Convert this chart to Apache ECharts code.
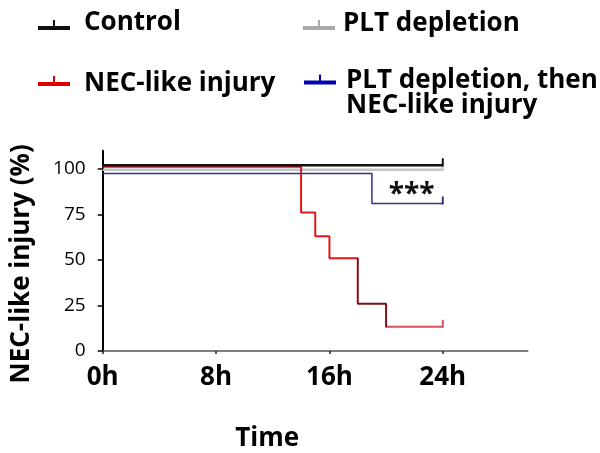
<!DOCTYPE html>
<html>
<head>
<meta charset="utf-8">
<script src="https://cdn.jsdelivr.net/npm/echarts@6/dist/echarts.min.js"></script>
<style>html,body{margin:0;padding:0;background:#fff}#c{width:600px;height:453px}</style>
</head>
<body>
<div id="c"></div>
<script>
// ---- data ----
const seriesNames = ['Control', 'PLT depletion', 'NEC-like injury', 'PLT depletion, then\nNEC-like injury'];
const controlTime = [0, 24];
const controlPct = [102, 102];
const pltTime = [0, 24];
const pltPct = [99.5, 99.5];
const necTime = [0, 14, 15, 16, 18, 20, 24];
const necPct = [101.2, 76, 63, 51, 26, 13.3, 13.3];
const pltNecTime = [0, 19, 24];
const pltNecPct = [97.5, 81, 81];
const xTicks = [0, 8, 16, 24];
const xTickLabels = ['0h', '8h', '16h', '24h'];
const yTicks = [0, 25, 50, 75, 100];
const sigLabel = '***';
const sigPoint = [21.8, 89];

const FONT = '"Open Sans", sans-serif';
const pair = (t, v) => t.map((x, i) => [x, v[i]]);
function iconFor(dy) {
  const c = 12 + dy;
  return 'path://M0,0 L0.01,0 L0,0.01 Z M0,24 L0.01,24 L0,23.99 Z ' +
    `M0,${c - 2} L32,${c - 2} L32,${c + 2} L0,${c + 2} Z M15,${c - 8} L17,${c - 8} L17,${c - 2} L15,${c - 2} Z`;
}

function mkSeries(name, t, v, color, width, z) {
  const last = t.length - 1;
  const s = {
    type: 'line', name: name, step: 'end', z: z,
    data: pair(t, v),
    showSymbol: true, showAllSymbol: true,
    symbol: (val, p) => p.dataIndex === last ? 'rect' : 'none',
    symbolSize: [2, 8], symbolOffset: [0, -3],
    lineStyle: { width: width },
    emphasis: { disabled: true },
    animation: false
  };
  if (color) { s.itemStyle = { color: color }; s.lineStyle.color = color; }
  return s;
}

function legendAt(left, top, idx, color, dy, padLeft, extra) {
  return Object.assign({
    left: left, top: top, padding: 0, selectedMode: false,
    itemWidth: 32, itemHeight: 24,
    textStyle: { fontFamily: FONT, fontWeight: 'bold', fontSize: 26, color: '#000', padding: [0, 0, 0, padLeft], lineHeight: 25 },
    data: [{ name: seriesNames[idx], icon: iconFor(dy), itemStyle: { color: color } }]
  }, extra || {});
}

const chart = echarts.init(document.getElementById('c'), null, { renderer: 'canvas' });
const necSeries = mkSeries(seriesNames[2], necTime, necPct, null, 2, 3);
const blueSeries = mkSeries(seriesNames[3], pltNecTime, pltNecPct, '#30338a', 1.5, 4);
blueSeries.markPoint = {
  symbol: 'circle', symbolSize: 0, silent: true, animation: false,
  label: { show: true, formatter: sigLabel, fontFamily: FONT, fontWeight: 'bold', fontSize: 28, color: '#111', position: 'inside', offset: [0, 6] },
  data: [{ coord: sigPoint }]
};

chart.setOption({
  backgroundColor: '#fff',
  animation: false,
  grid: { left: 102.7, right: 72.2, top: 150.7, bottom: 101.3 },
  legend: [
    legendAt(38, 10, 0, '#111', 5, 9),
    legendAt(303, 11, 1, '#aaa', 4, 3),
    legendAt(38, 71, 2, '#e00000', 0, 9),
    legendAt(304, 43, 3, '#0000b0', 1.5, 5, { formatter: n => ' \n' + n })
  ],
  visualMap: {
    show: false, type: 'piecewise', seriesIndex: 2, dimension: 0,
    pieces: [
      { min: -1, max: 17.95, color: '#e3151b' },
      { min: 17.95, max: 20.05, color: '#7a1014' },
      { min: 20.05, max: 31, color: '#d6525c' }
    ]
  },
  xAxis: {
    type: 'value', min: 0, max: 30, interval: 8,
    name: 'Time', nameLocation: 'middle', nameGap: 75,
    nameTextStyle: { fontFamily: FONT, fontWeight: 'bold', fontSize: 26, color: '#000', padding: [0, 96, 0, 0] },
    axisLine: { show: true, lineStyle: { color: '#555', width: 1.5 } },
    axisTick: { show: true, length: 3, customValues: xTicks, lineStyle: { color: '#222', width: 1.5 } },
    axisLabel: { customValues: xTicks, margin: 14, fontFamily: FONT, fontWeight: 'bold', fontSize: 26, color: '#000',
      formatter: v => xTickLabels[xTicks.indexOf(v)] },
    splitLine: { show: false }
  },
  yAxis: {
    type: 'value', min: 0, max: 110, interval: 25,
    name: 'NEC-like injury (%)', nameLocation: 'middle', nameGap: 68,
    nameTextStyle: { fontFamily: FONT, fontWeight: 'bold', fontSize: 26, color: '#000', padding: [0, 26, 0, 0] },
    axisLine: { show: true, lineStyle: { color: '#000', width: 2 } },
    axisTick: { show: true, length: 5, customValues: yTicks, lineStyle: { color: '#000', width: 1.5 } },
    axisLabel: { customValues: yTicks, margin: 17, fontFamily: FONT, fontSize: 19, color: '#000' },
    splitLine: { show: false }
  },
  series: [
    mkSeries(seriesNames[0], controlTime, controlPct, '#111', 2.5, 5),
    mkSeries(seriesNames[1], pltTime, pltPct, '#c4c4c4', 2.5, 2),
    necSeries,
    blueSeries
  ]
});
</script>
</body>
</html>
